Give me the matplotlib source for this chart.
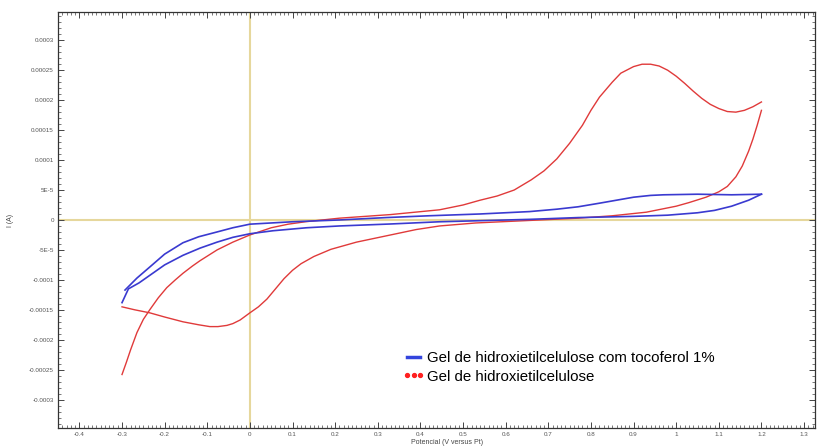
import matplotlib
matplotlib.use('Agg')
import matplotlib.pyplot as plt
from matplotlib.lines import Line2D
from matplotlib.ticker import MultipleLocator, FixedLocator, FixedFormatter
import numpy as np

plt.rcParams['font.family'] = ['Liberation Sans', 'DejaVu Sans']

# red: gel without tocopherol (anodic sweep, then reverse sweep), current in 1E-4 A
red_fwd_v = [-0.30, -0.29, -0.28, -0.265, -0.25, -0.235, -0.215, -0.195, -0.175, -0.157,
             -0.135, -0.117, -0.097, -0.077, -0.04, 0.0, 0.05, 0.09, 0.13, 0.21, 0.33,
             0.445, 0.50, 0.54, 0.58, 0.62, 0.66, 0.69, 0.72, 0.75, 0.78, 0.80, 0.82,
             0.85, 0.87, 0.90, 0.92, 0.94, 0.96, 0.98, 1.00, 1.02, 1.04, 1.06, 1.08,
             1.10, 1.12, 1.14, 1.16, 1.18, 1.20]
red_fwd_i = [-2.58, -2.38, -2.17, -1.88, -1.66, -1.50, -1.30, -1.13, -1.00, -0.89,
             -0.77, -0.68, -0.59, -0.50, -0.37, -0.25, -0.13, -0.07, -0.03, 0.03, 0.09,
             0.17, 0.25, 0.33, 0.40, 0.50, 0.67, 0.82, 1.02, 1.28, 1.58, 1.83, 2.05,
             2.30, 2.45, 2.56, 2.60, 2.60, 2.57, 2.50, 2.40, 2.28, 2.15, 2.03, 1.93,
             1.86, 1.81, 1.80, 1.83, 1.89, 1.97]
red_rev_v = [1.20, 1.19, 1.18, 1.17, 1.155, 1.14, 1.12, 1.10, 1.07, 1.03, 1.00, 0.93,
             0.85, 0.77, 0.62, 0.53, 0.445, 0.39, 0.33, 0.25, 0.19, 0.15, 0.12, 0.10,
             0.08, 0.06, 0.04, 0.02, 0.0, -0.023, -0.04, -0.054, -0.075, -0.094, -0.12,
             -0.157, -0.20, -0.235, -0.27, -0.30]
red_rev_i = [1.83, 1.58, 1.35, 1.15, 0.90, 0.72, 0.56, 0.47, 0.38, 0.29, 0.23, 0.13,
             0.07, 0.03, -0.02, -0.05, -0.10, -0.16, -0.25, -0.37, -0.49, -0.61, -0.73,
             -0.84, -0.98, -1.15, -1.32, -1.45, -1.55, -1.67, -1.73, -1.76, -1.78, -1.78,
             -1.75, -1.70, -1.62, -1.55, -1.50, -1.45]

# blue: gel with tocopherol 1%
blue_fwd_v = [-0.293, -0.265, -0.234, -0.20, -0.157, -0.12, -0.077, -0.04, 0.0, 0.10,
              0.21, 0.32, 0.42, 0.54, 0.656, 0.72, 0.77, 0.82, 0.86, 0.90, 0.94, 0.97,
              1.05, 1.13, 1.20]
blue_fwd_i = [-1.17, -0.97, -0.78, -0.57, -0.38, -0.28, -0.20, -0.13, -0.07, -0.03,
              0.0, 0.04, 0.07, 0.10, 0.14, 0.18, 0.22, 0.28, 0.33, 0.38, 0.41, 0.42,
              0.43, 0.42, 0.43]
blue_rev_v = [1.20, 1.17, 1.13, 1.09, 1.05, 0.98, 0.90, 0.77, 0.656, 0.55, 0.445, 0.33,
              0.21, 0.133, 0.054, 0.0, -0.04, -0.077, -0.117, -0.157, -0.20, -0.234,
              -0.26, -0.285, -0.30]
blue_rev_i = [0.43, 0.33, 0.23, 0.16, 0.12, 0.08, 0.06, 0.04, 0.01, -0.01, -0.03, -0.067,
              -0.10, -0.13, -0.18, -0.23, -0.29, -0.37, -0.47, -0.59, -0.75, -0.92,
              -1.05, -1.15, -1.38]

ytick_vals = [-0.0003, -0.00025, -0.0002, -0.00015, -0.0001, -5e-5, 0, 5e-5, 0.0001,
              0.00015, 0.0002, 0.00025, 0.0003]
ytick_labels = ['-0.0003', '-0.00025', '-0.0002', '-0.00015', '-0.0001', '-5E-5', '0',
                '5E-5', '0.0001', '0.00015', '0.0002', '0.00025', '0.0003']
xtick_vals = [-0.4, -0.3, -0.2, -0.1, 0, 0.1, 0.2, 0.3, 0.4, 0.5, 0.6, 0.7, 0.8, 0.9,
              1.0, 1.1, 1.2, 1.3]
xtick_labels = ['-0.4', '-0.3', '-0.2', '-0.1', '0', '0.1', '0.2', '0.3', '0.4', '0.5',
                '0.6', '0.7', '0.8', '0.9', '1', '1.1', '1.2', '1.3']

fig = plt.figure(figsize=(8.18, 4.48), dpi=100)
ax = fig.add_axes([0.071, 0.045, 0.925, 0.928])

blue = '#3a3ad0'
red = '#e03a3a'
zero_col = '#e6d79c'

ax.axhline(0, color=zero_col, lw=1.5, zorder=1)
ax.axvline(0, color=zero_col, lw=1.5, zorder=1)

ax.plot(red_fwd_v, np.array(red_fwd_i) * 1e-4, color=red, lw=1.0, zorder=2)
ax.plot(red_rev_v, np.array(red_rev_i) * 1e-4, color=red, lw=1.0, zorder=2)
ax.plot(blue_fwd_v, np.array(blue_fwd_i) * 1e-4, color=blue, lw=1.2, zorder=3)
ax.plot(blue_rev_v, np.array(blue_rev_i) * 1e-4, color=blue, lw=1.2, zorder=3)

ax.set_xlim(-0.45, 1.325)
ax.set_ylim(-0.000347, 0.000347)

ax.xaxis.set_major_locator(FixedLocator(xtick_vals))
ax.xaxis.set_major_formatter(FixedFormatter(xtick_labels))
ax.xaxis.set_minor_locator(MultipleLocator(0.01))
ax.yaxis.set_major_locator(FixedLocator(ytick_vals))
ax.yaxis.set_major_formatter(FixedFormatter(ytick_labels))
ax.yaxis.set_minor_locator(MultipleLocator(1e-5))

ax.tick_params(which='both', direction='in', top=True, right=True,
               labelsize=4.5, labelcolor='#555555', color='#444444')
ax.tick_params(which='major', length=4, width=0.7, pad=3)
ax.tick_params(which='minor', length=2, width=0.5)
for s in ax.spines.values():
    s.set_linewidth(0.9)
    s.set_color('#333333')

ax.set_xlabel('Potencial (V versus Pt)', fontsize=5, color='#444444')
ax.xaxis.set_label_coords(0.514, -0.028)
ax.set_ylabel('I (A)', fontsize=5, color='#444444')
ax.yaxis.set_label_coords(-0.058, 0.5)

handles = [Line2D([], [], color='#3344dd', lw=2.5),
           Line2D([], [], color='#ff2020', ls='none', marker='o', markersize=2.8)]
ax.legend(handles, ['Gel de hidroxietilcelulose com tocoferol 1%', 'Gel de hidroxietilcelulose'],
          loc='upper left', bbox_to_anchor=(0.455, 0.185), frameon=False, fontsize=10.8,
          handlelength=1.5, handletextpad=0.15, labelspacing=0.32, borderpad=0,
          borderaxespad=0, numpoints=3)

plt.savefig('out.png', dpi=100)
plt.close()
